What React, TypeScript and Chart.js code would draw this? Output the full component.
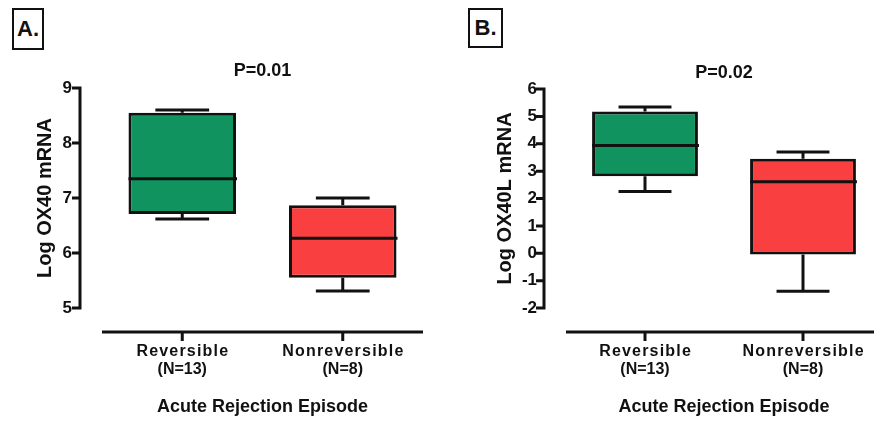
import React, { useEffect, useRef } from "react";
import { Chart, registerables } from "chart.js";

Chart.register(...registerables);

const FONT = "'Liberation Sans', Arial, Helvetica, sans-serif";
const INK = "#111111";

const categories = ["Reversible", "Nonreversible"];
const groupSizes = ["(N=13)", "(N=8)"];
const boxColors = ["#10935f", "#f93f40"];
const xTitle = "Acute Rejection Episode";

// Panel A: Log OX40 mRNA (box plot: min, Q1, median, Q3, max)
const ox40Min = [6.62, 5.31];
const ox40Q1 = [6.71, 5.55];
const ox40Median = [7.35, 6.27];
const ox40Q3 = [8.55, 6.87];
const ox40Max = [8.6, 7.0];
const ox40Ticks = [5, 6, 7, 8, 9];
const ox40PValue = "P=0.01";

// Panel B: Log OX40L mRNA
const ox40lMin = [2.26, -1.39];
const ox40lQ1 = [2.81, -0.05];
const ox40lMedian = [3.94, 2.61];
const ox40lQ3 = [5.18, 3.45];
const ox40lMax = [5.34, 3.7];
const ox40lTicks = [-2, -1, 0, 1, 2, 3, 4, 5, 6];
const ox40lPValue = "P=0.02";

type PanelCfg = {
  yTitle: string;
  mins: number[];
  q1: number[];
  med: number[];
  q3: number[];
  maxs: number[];
  ticks: number[];
  pValue: string;
  pY: number;
  width: number;
  padTop: number;
  yWidth: number;
  yTitlePad: number;
  tickPad: number;
};

function makePlugin(cfg: PanelCfg) {
  return {
    id: "boxExtras",
    beforeDatasetsDraw(chart: any) {
      const ctx = chart.ctx;
      const ys = chart.scales.y;
      const meta = chart.getDatasetMeta(0);
      ctx.save();
      ctx.strokeStyle = INK;
      ctx.lineWidth = 3;
      meta.data.forEach((bar: any, i: number) => {
        const x = bar.x;
        const hw = bar.width / 4;
        const yMax = ys.getPixelForValue(cfg.maxs[i]);
        const yMin = ys.getPixelForValue(cfg.mins[i]);
        const yQ1 = ys.getPixelForValue(cfg.q1[i]);
        const yQ3 = ys.getPixelForValue(cfg.q3[i]);
        ctx.beginPath();
        ctx.moveTo(x, yQ3);
        ctx.lineTo(x, yMax);
        ctx.moveTo(x - hw, yMax);
        ctx.lineTo(x + hw, yMax);
        ctx.moveTo(x, yQ1);
        ctx.lineTo(x, yMin);
        ctx.moveTo(x - hw, yMin);
        ctx.lineTo(x + hw, yMin);
        ctx.stroke();
      });
      ctx.restore();
    },
    afterDatasetsDraw(chart: any) {
      const ctx = chart.ctx;
      const ys = chart.scales.y;
      const meta = chart.getDatasetMeta(0);
      ctx.save();
      ctx.strokeStyle = INK;
      ctx.lineWidth = 3;
      meta.data.forEach((bar: any, i: number) => {
        const y = ys.getPixelForValue(cfg.med[i]);
        ctx.beginPath();
        ctx.moveTo(bar.x - bar.width / 2, y);
        ctx.lineTo(bar.x + bar.width / 2 + 1, y);
        ctx.stroke();
      });
      ctx.restore();
    },
    afterDraw(chart: any) {
      const ctx = chart.ctx;
      const ys = chart.scales.y;
      const xs = chart.scales.x;
      const area = chart.chartArea;
      ctx.save();
      ctx.strokeStyle = INK;
      ctx.lineWidth = 3;
      // y spine (detached from the x axis)
      const ax = area.left - 22;
      const yTop = ys.getPixelForValue(ys.max);
      const yBot = ys.getPixelForValue(ys.min);
      ctx.beginPath();
      ctx.moveTo(ax, yTop - 1.5);
      ctx.lineTo(ax, yBot + 1.5);
      cfg.ticks.forEach((v) => {
        const y = ys.getPixelForValue(v);
        ctx.moveTo(ax - 8, y);
        ctx.lineTo(ax, y);
      });
      ctx.stroke();
      // x axis line
      const xy = area.bottom + 24;
      ctx.lineWidth = 3;
      ctx.beginPath();
      ctx.moveTo(area.left, xy);
      ctx.lineTo(area.right, xy);
      categories.forEach((_, i) => {
        const x = xs.getPixelForValue(i);
        ctx.moveTo(x, xy);
        ctx.lineTo(x, xy + 9);
      });
      ctx.stroke();
      // category labels
      ctx.fillStyle = INK;
      ctx.textAlign = "center";
      ctx.textBaseline = "middle";
      categories.forEach((c, i) => {
        const x = xs.getPixelForValue(i);
        ctx.font = `bold 16px ${FONT}`;
        (ctx as any).letterSpacing = "1.2px";
        ctx.fillText(c, x + 0.6, area.bottom + 44);
        (ctx as any).letterSpacing = "0px";
        ctx.fillText(groupSizes[i], x, area.bottom + 62);
      });
      // p value
      ctx.font = `bold 18px ${FONT}`;
      ctx.fillText(cfg.pValue, (area.left + area.right) / 2, cfg.pY);
      ctx.restore();
    },
  };
}

function Panel({ cfg, left }: { cfg: PanelCfg; left: number }) {
  const ref = useRef<HTMLCanvasElement | null>(null);
  useEffect(() => {
    if (!ref.current) return;
    const chart = new Chart(ref.current, {
      type: "bar",
      data: {
        labels: categories,
        datasets: [
          {
            data: categories.map((_, i) => [cfg.q1[i], cfg.q3[i]]) as any,
            backgroundColor: boxColors,
            borderColor: INK,
            borderWidth: 3,
            borderSkipped: false,
            barPercentage: 0.67,
            categoryPercentage: 1,
          },
        ],
      },
      options: {
        responsive: false,
        animation: false,
        devicePixelRatio: 1,
        layout: { padding: { top: cfg.padTop, right: 14, bottom: 0, left: 0 } },
        plugins: { legend: { display: false }, tooltip: { enabled: false } },
        scales: {
          x: {
            type: "category",
            offset: true,
            grid: { display: false, drawTicks: false },
            border: { display: false },
            ticks: { display: false },
            title: {
              display: true,
              text: xTitle,
              color: INK,
              font: { family: FONT, size: 18, weight: "bold" },
              padding: { top: 0, bottom: 4 },
            },
            afterFit: (s: any) => {
              s.height = 114;
            },
          },
          y: {
            min: cfg.ticks[0],
            max: cfg.ticks[cfg.ticks.length - 1],
            grid: { display: false, drawTicks: false },
            border: { display: false },
            ticks: {
              stepSize: 1,
              padding: cfg.tickPad,
              color: INK,
              font: { family: FONT, size: 17, weight: "bold" },
            },
            afterBuildTicks: (s: any) => {
              s.ticks = cfg.ticks.map((v) => ({ value: v }));
            },
            title: {
              display: true,
              text: cfg.yTitle,
              color: INK,
              font: { family: FONT, size: 20, weight: "bold" },
              padding: { top: cfg.yTitlePad, bottom: 0 },
            },
            afterFit: (s: any) => {
              s.width = cfg.yWidth;
            },
          },
        },
      } as any,
      plugins: [makePlugin(cfg)],
    });
    return () => chart.destroy();
  }, []);
  return (
    <canvas
      ref={ref}
      width={cfg.width}
      height={422}
      style={{ position: "absolute", left, top: 0, width: cfg.width, height: 422 }}
    />
  );
}

const panelA: PanelCfg = {
  yTitle: "Log OX40 mRNA",
  mins: ox40Min,
  q1: ox40Q1,
  med: ox40Median,
  q3: ox40Q3,
  maxs: ox40Max,
  ticks: ox40Ticks,
  pValue: ox40PValue,
  pY: 71,
  width: 437,
  padTop: 88,
  yWidth: 102,
  yTitlePad: 33,
  tickPad: 30,
};

const panelB: PanelCfg = {
  yTitle: "Log OX40L mRNA",
  mins: ox40lMin,
  q1: ox40lQ1,
  med: ox40lMedian,
  q3: ox40lQ3,
  maxs: ox40lMax,
  ticks: ox40lTicks,
  pValue: ox40lPValue,
  pY: 73,
  width: 459,
  padTop: 89,
  yWidth: 129,
  yTitlePad: 56,
  tickPad: 29,
};

const labelBox = (left: number, width: number, height: number): React.CSSProperties => ({
  position: "absolute",
  left,
  top: 8,
  width,
  height,
  boxSizing: "border-box",
  border: `2px solid ${INK}`,
  fontFamily: FONT,
  fontWeight: "bold",
  fontSize: 22,
  lineHeight: `${height - 4}px`,
  textAlign: "center",
  color: INK,
  background: "#fff",
});

export default function App() {
  return (
    <div
      style={{
        position: "fixed",
        left: 0,
        top: 0,
        width: 874,
        height: 422,
        overflow: "hidden",
        background: "#ffffff",
      }}
    >
      <Panel cfg={panelA} left={0} />
      <Panel cfg={panelB} left={437} />
      <div style={labelBox(12, 32, 42)}>A.</div>
      <div style={labelBox(468, 35, 40)}>B.</div>
    </div>
  );
}
